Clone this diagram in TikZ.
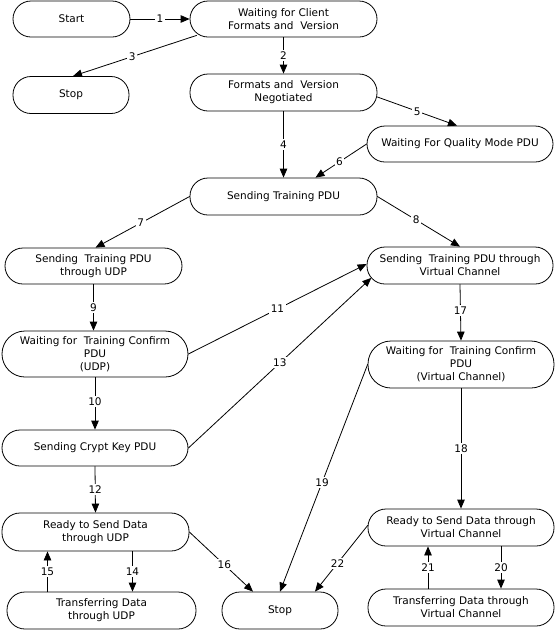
\documentclass[tikz,border=0pt]{standalone}
\usepackage{fontspec}
\setmainfont{DejaVu Sans}
\usetikzlibrary{arrows.meta}
\begin{document}
\begin{tikzpicture}[x=1pt,y=-1pt,line cap=round,line join=round,line width=0.8pt,
	>={Triangle[length=9pt,width=7.5pt]},font=\fontsize{10.5}{13}\selectfont,
	state/.style={draw,rectangle,rounded corners=18pt,align=center,inner sep=2pt},
	tall/.style={rounded corners=23pt},
	lab/.style={fill=white,inner sep=1.5pt}]
	
	\useasboundingbox (0,0) rectangle (556,630);
	
	\node[state,minimum width=117,minimum height=36] (start) at (71.5,19) {Start};
	\node[state,minimum width=187,minimum height=36] (wc) at (283.5,19) {Waiting for Client\\Formats and~ Version};
	\node[state,minimum width=116,minimum height=37] (stopa) at (71,95) {Stop};
	\node[state,minimum width=187,minimum height=37] (neg) at (283.5,92.5) {Formats and~ Version\\Negotiated};
	\node[state,minimum width=186,minimum height=36] (qm) at (460,144) {Waiting For Quality Mode PDU};
	\node[state,minimum width=187,minimum height=37] (str) at (283.5,196.5) {Sending Training PDU};
	\node[state,minimum width=177,minimum height=36] (udp) at (93.5,266) {Sending~ Training PDU\\through UDP};
	\node[state,minimum width=186,minimum height=37] (vc) at (460,265.5) {Sending~ Training PDU through\\Virtual Channel};
	\node[state,tall,minimum width=186,minimum height=46] (wudp) at (95,354) {Waiting for~ Training Confirm\\PDU\\(UDP)};
	\node[state,tall,minimum width=186,minimum height=47] (wvc) at (461,364.5) {Waiting for~ Training Confirm\\PDU\\(Virtual Channel)};
	\node[state,minimum width=186,minimum height=36] (crypt) at (95,448) {Sending Crypt Key PDU};
	\node[state,minimum width=187,minimum height=38] (rudp) at (95.5,532) {Ready to Send Data\\through UDP};
	\node[state,minimum width=189,minimum height=37] (tudp) at (101.5,610.5) {Transferring Data\\through UDP};
	\node[state,minimum width=116,minimum height=37] (stopb) at (280,610.5) {Stop};
	\node[state,minimum width=186,minimum height=37] (rvc) at (461,527.5) {Ready to Send Data through\\Virtual Channel};
	\node[state,minimum width=186,minimum height=37] (tvc) at (461,607.5) {Transferring Data through\\Virtual Channel};
	
	\draw[->] (start.east) -- node[lab] {1} (wc.west);
	\draw[->] (wc.south) -- node[lab] {2} (neg.north);
	\draw[->] ([shift={(7,-2)}]wc.south west) -- node[lab,pos=.52] {3} ([xshift=2pt]stopa.north);
	\draw[->] (neg.south) -- node[lab] {4} (str.north);
	\draw[->] ([shift={(0,4.5)}]neg.east) -- node[lab] {5} ([xshift=-3pt]qm.north);
	\draw[->] (qm.west) -- node[lab,pos=.53] {6} ([xshift=32pt]str.north);
	\draw[->] (str.west) -- node[lab,pos=.52] {7} ([xshift=2pt]udp.north);
	\draw[->] (str.east) -- node[lab,pos=.47] {8} (vc.north);
	\draw[->] (udp.south) -- node[lab] {9} (udp.south |- wudp.north);
	\draw[->] (wudp.south) -- node[lab,pos=.47] {10} (crypt.north);
	\draw[->] (wudp.east) -- node[lab] {11} ([yshift=1.5pt]vc.west);
	\draw[->] (crypt.east) -- node[lab] {13} ([shift={(4.7,12.4)}]vc.west);
	\draw[->] (crypt.south) -- node[lab] {12} (rudp.north);
	\draw[->] ([xshift=37pt]rudp.south) -- node[lab] {14} ([xshift=37pt]rudp.south |- tudp.north);
	\draw[->] ([xshift=-48pt]rudp.south |- tudp.north) -- node[lab] {15} ([xshift=-48pt]rudp.south);
	\draw[->] (rudp.east) -- node[lab,pos=.55] {16} ([xshift=-27pt]stopb.north);
	\draw[->] (vc.south) -- node[lab,pos=.47] {17} (wvc.north);
	\draw[->] (wvc.south) -- node[lab] {18} (rvc.north);
	\draw[->] (wvc.west) -- node[lab,pos=.52] {19} (stopb.north);
	\draw[->] ([xshift=40pt]rvc.south) -- node[lab] {20} ([xshift=40pt]rvc.south |- tvc.north);
	\draw[->] ([xshift=-33pt]rvc.south |- tvc.north) -- node[lab] {21} ([xshift=-33pt]rvc.south);
	\draw[->] ([yshift=2pt]rvc.west) -- node[lab,pos=.57] {22} ([xshift=35pt]stopb.north);
\end{tikzpicture}
\end{document}
